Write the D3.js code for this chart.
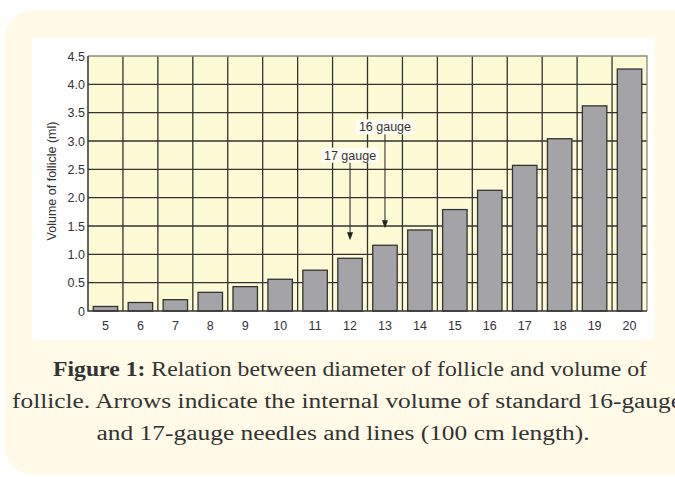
<!DOCTYPE html>
<meta charset="utf-8">
<title>Follicle volume</title>
<style>
  body { margin: 0; background: #fff; }
  svg { display: block; }
</style>
<body>
<script src="https://cdnjs.cloudflare.com/ajax/libs/d3/7.8.5/d3.min.js"></script>
<script>

// data
var diameters = ["5","6","7","8","9","10","11","12","13","14","15","16","17","18","19","20"];
var volumes = [0.08, 0.15, 0.20, 0.33, 0.43, 0.56, 0.72, 0.93, 1.16, 1.43, 1.79, 2.13, 2.57, 3.04, 3.62, 4.27];
var yTicks = [0, 0.5, 1.0, 1.5, 2.0, 2.5, 3.0, 3.5, 4.0, 4.5];
var yTickLabels = ["0", "0.5", "1.0", "1.5", "2.0", "2.5", "3.0", "3.5", "4.0", "4.5"];
var gauges = [
  { label: "16 gauge", at: "13", labelY: 3.25, tipY: 1.46 },
  { label: "17 gauge", at: "12", labelY: 2.75, tipY: 1.25 }
];
var caption = [
  "Relation between diameter of follicle and volume of",
  "follicle. Arrows indicate the internal volume of standard 16-gauge",
  "and 17-gauge needles and lines (100 cm length)."
];

var width = 675, height = 477;
// plot box (avoid "top", it clashes with window.top)
var pLeft = 88, pRight = 647, pTop = 56, pBottom = 311;

var svg = d3.select("body").append("svg")
    .attr("width", width)
    .attr("height", height);

// card + white panel
svg.append("rect")
  .attr("x", 5).attr("y", 10)
  .attr("width", 700).attr("height", 465)
  .attr("rx", 28)
  .attr("fill", "#fffbe8");

svg.append("rect")
  .attr("x", 32).attr("y", 38)
  .attr("width", 622).attr("height", 302)
  .attr("fill", "#fff");

var x = d3.scaleBand()
    .domain(diameters)
    .range([pLeft, pRight])
    .paddingInner(0.3)
    .paddingOuter(0.15);

var y = d3.scaleLinear()
    .domain([0, 4.5])
    .range([pBottom, pTop]);

var gap = (x.step() - x.bandwidth()) / 2;

// plot background
svg.append("rect")
  .attr("x", pLeft).attr("y", pTop)
  .attr("width", pRight - pLeft).attr("height", pBottom - pTop)
  .attr("fill", "#fdfad6");

// grid
svg.append("g").selectAll("line")
  .data(yTicks.slice(1, -1))
  .join("line")
  .attr("x1", pLeft).attr("x2", pRight)
  .attr("y1", d => y(d)).attr("y2", d => y(d))
  .attr("stroke", "#333").attr("stroke-width", 1.3);

svg.append("g").selectAll("line")
  .data(diameters.slice(1))
  .join("line")
  .attr("x1", d => x(d) - gap).attr("x2", d => x(d) - gap)
  .attr("y1", pTop).attr("y2", pBottom)
  .attr("stroke", "#333").attr("stroke-width", 1.3);

// frame: top and right lighter
svg.append("path")
  .attr("d", "M" + pLeft + "," + pTop + "H" + pRight + "V" + pBottom)
  .attr("fill", "none")
  .attr("stroke", "#8a8a80").attr("stroke-width", 1.3);

// bars
svg.append("g").selectAll("rect")
  .data(volumes)
  .join("rect")
  .attr("x", (d, i) => x(diameters[i]))
  .attr("y", d => y(d))
  .attr("width", x.bandwidth())
  .attr("height", d => y(0) - y(d))
  .attr("fill", "#a4a4a8")
  .attr("stroke", "#333")
  .attr("stroke-width", 1.3);

// axis lines
svg.append("path")
  .attr("d", "M" + pLeft + "," + pTop + "V" + pBottom + "H" + pRight)
  .attr("fill", "none")
  .attr("stroke", "#333").attr("stroke-width", 1.5);

// tick labels
var yAxis = svg.append("g")
  .attr("transform", "translate(" + (pLeft - 3) + ",0)")
  .call(d3.axisLeft(y).tickValues(yTicks).tickSize(0).tickPadding(0)
    .tickFormat((d, i) => yTickLabels[i]));
yAxis.select(".domain").remove();

var xAxis = svg.append("g")
  .attr("transform", "translate(0," + (pBottom + 10) + ")")
  .call(d3.axisBottom(x).tickSize(0).tickPadding(0));
xAxis.select(".domain").remove();

svg.selectAll(".tick text")
  .attr("fill", "#333")
  .style("font-family", "Liberation Sans, Arial, sans-serif")
  .style("font-size", "12.5px");

svg.append("text")
  .attr("transform", "translate(56,181) rotate(-90)")
  .attr("text-anchor", "middle")
  .attr("fill", "#333")
  .style("font-family", "Liberation Sans, Arial, sans-serif")
  .style("font-size", "12.5px")
  .text("Volume of follicle (ml)");

// gauge annotations
var ann = svg.append("g").selectAll("g")
  .data(gauges)
  .join("g");

ann.append("line")
  .attr("x1", d => x(d.at) + x.bandwidth() / 2)
  .attr("x2", d => x(d.at) + x.bandwidth() / 2)
  .attr("y1", d => y(d.labelY) + 7)
  .attr("y2", d => y(d.tipY) - 6)
  .attr("stroke", "#333").attr("stroke-width", 1.1);

ann.append("path")
  .attr("d", d => {
    var cx = x(d.at) + x.bandwidth() / 2, ty = y(d.tipY);
    return "M" + (cx - 3) + "," + (ty - 8) + "L" + (cx + 3) + "," + (ty - 8) + "L" + cx + "," + ty + "Z";
  })
  .attr("fill", "#222");

ann.append("rect")
  .attr("x", d => x(d.at) + x.bandwidth() / 2 - 29)
  .attr("y", d => y(d.labelY) - 7.5)
  .attr("width", 58).attr("height", 15)
  .attr("fill", "#fdfdf6");

ann.append("text")
  .attr("x", d => x(d.at) + x.bandwidth() / 2)
  .attr("y", d => y(d.labelY))
  .attr("dy", ".35em")
  .attr("text-anchor", "middle")
  .attr("fill", "#333")
  .style("font-family", "Liberation Sans, Arial, sans-serif")
  .style("font-size", "12.5px")
  .text(d => d.label);

// caption
var cap = svg.append("g")
  .attr("fill", "#333")
  .style("font-family", "Liberation Serif, serif")
  .style("font-size", "20px");

var l1 = cap.append("text")
  .attr("x", 350).attr("y", 376)
  .attr("text-anchor", "middle")
  .attr("textLength", 594).attr("lengthAdjust", "spacingAndGlyphs");
l1.append("tspan").style("font-weight", "bold").text("Figure 1:");
l1.append("tspan").text(" " + caption[0]);

cap.append("text")
  .attr("x", 347).attr("y", 408)
  .attr("text-anchor", "middle")
  .attr("textLength", 670).attr("lengthAdjust", "spacingAndGlyphs")
  .text(caption[1]);

cap.append("text")
  .attr("x", 343).attr("y", 440)
  .attr("text-anchor", "middle")
  .attr("textLength", 493).attr("lengthAdjust", "spacingAndGlyphs")
  .text(caption[2]);

</script>
